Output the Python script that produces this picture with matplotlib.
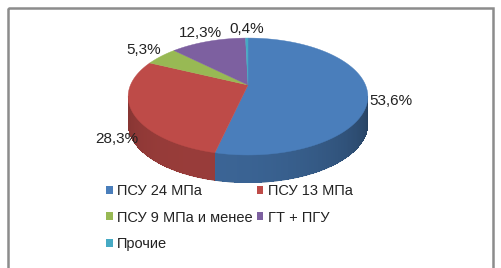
import numpy as np
import matplotlib; matplotlib.use('Agg'); import matplotlib.pyplot as plt
from matplotlib.patches import Polygon, Rectangle

labels = ['ПСУ 24 МПа', 'ПСУ 13 МПа', 'ПСУ 9 МПа и менее', 'ГТ + ПГУ', 'Прочие']
shares = [53.6, 28.3, 5.3, 12.3, 0.4]
pct_text = ['53,6%', '28,3%', '5,3%', '12,3%', '0,4%']
colors = ['#4a7ebb', '#be4b48', '#98b954', '#7d60a0', '#46aac4']

plt.rcParams['font.family'] = ['Liberation Sans', 'DejaVu Sans']

# pie geometry in pixel units (perspective ellipse)
cx, cy, rx, ry, k, depth = 248, 85, 117.5, 56.2, 0.197, 28

def proj(t, r=1.0):
    s = 1.0 / (1 + k * np.sin(t))
    return cx + rx * r * np.cos(t) * s, cy - ry * r * np.sin(t) * s

fig = plt.figure(figsize=(5.01, 2.68), dpi=100)
ax = fig.add_axes([0, 0, 1, 1])
ax.set_xlim(0, 501); ax.set_ylim(268, 0); ax.axis('off')

ax.add_patch(Rectangle((8.5, 7.5), 485, 280, fill=False, ec='#8c8c8c', lw=1.8))

frac = np.array(shares) / sum(shares)
ends = np.cumsum(frac)
starts = ends - frac
vis_lo, vis_hi = -np.pi - np.arcsin(-k), np.arcsin(-k)   # front silhouette

base = [np.array(matplotlib.colors.to_rgb(c)) for c in colors]
# sides: whole polygon first (clean edges), then shaded strips inside
for i in range(len(shares)):
    a0 = np.pi / 2 - starts[i] * 2 * np.pi
    a1 = np.pi / 2 - ends[i] * 2 * np.pi
    lo, hi = max(a1, vis_lo), min(a0, vis_hi)
    if lo >= hi:
        continue
    ts = np.linspace(lo, hi, 90)
    xs, ys = proj(ts)
    outline = list(zip(xs, ys)) + list(zip(xs[::-1], ys[::-1] + depth))
    ax.add_patch(Polygon(outline, closed=True, fc=base[i] * 0.6, ec='none'))
    step = ts[1] - ts[0]
    for tm in ts[:-1] + step / 2:
        f = 0.55 + 0.25 * np.cos(tm - np.radians(-110))
        ta, tb = max(tm - step * 0.9, lo), min(tm + step * 0.9, hi)
        x0, y0 = proj(ta); x1, y1 = proj(tb)
        ax.add_patch(Polygon([(x0, y0), (x1, y1), (x1, y1 + depth - 0.6), (x0, y0 + depth - 0.6)],
                             closed=True, fc=base[i] * f, ec='none', antialiased=False))

# top faces
for i in range(len(shares)):
    a0 = np.pi / 2 - starts[i] * 2 * np.pi
    a1 = np.pi / 2 - ends[i] * 2 * np.pi
    ts = np.linspace(a0, a1, 120)
    xs, ys = proj(ts)
    pts = [(cx, cy)] + list(zip(xs, ys))
    ax.add_patch(Polygon(pts, closed=True, fc=colors[i], ec=colors[i], lw=0.3))

# value labels
for i in range(len(shares)):
    tm = np.pi / 2 - (starts[i] + frac[i] / 2) * 2 * np.pi
    r = 1.2 if np.sin(tm) > -0.3 else 1.13
    lx, ly = proj(tm, r)
    if np.sin(tm) < 0:
        ly += 3 + 47 * (-np.sin(tm))
    ax.text(lx, ly, pct_text[i], ha='center', va='center', fontsize=11, color='#222222')

# legend (row-major order like the original)
order = [0, 2, 4, 1, 3]
handles = [Rectangle((0, 0), 1, 1, fc=colors[j], ec='none') for j in order]
ax.legend(handles, [labels[j] for j in order], ncol=2, loc='upper left',
          bbox_to_anchor=(106, 184), bbox_transform=ax.transData, frameon=False,
          fontsize=10.5, handlelength=0.47, handleheight=0.47, handletextpad=0.3,
          columnspacing=0.25, labelspacing=0.86, borderpad=0, borderaxespad=0,
          labelcolor='#222222')

fig.savefig('out.png', dpi=100)
